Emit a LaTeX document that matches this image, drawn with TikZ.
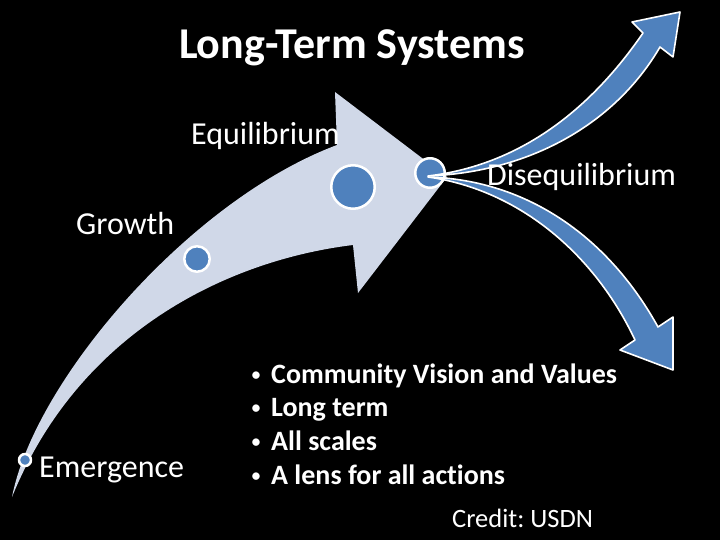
\documentclass[tikz,border=0pt]{standalone}
\usepackage{fontspec}
\setmainfont[Ligatures=NoCommon]{Carlito}
\definecolor{shaft}{RGB}{208,216,232}
\definecolor{dotblue}{RGB}{79,129,189}

\begin{document}
\begin{tikzpicture}[x=1pt,y=-1pt,line cap=round,line join=round,
  dot/.style={circle,fill=dotblue,draw=white,line width=2.5pt,inner sep=0pt},
  lbl/.style={text=white,anchor=base west,inner sep=0pt,font=\fontsize{32}{38}\selectfont},
  item/.style={text=white,anchor=base west,inner sep=0pt,font=\fontsize{28}{33}\selectfont\bfseries},
  branch/.style={fill=dotblue,draw=white,line width=1.6pt}]
  \fill[black] (0,0) rectangle (720,540);
  % big curved arrow
  \fill[shaft] (12,497) .. controls (35,380) and (190,200) .. (337,145) -- (335,92) -- (447,177)
    -- (358,293) -- (353,245) .. controls (230,260) and (80,330) .. (12,497) -- cycle;
  % stages
  \node[dot,minimum size=43.5] (equil) at (353,187) {};
  \node[dot,minimum size=25.5] (growth) at (197,259) {};
  \node[dot,minimum size=12] (emerge) at (25,460) {};
  \node[dot,minimum size=29.5] (diseq) at (430,173) {};
  % two branches out of disequilibrium
  \draw[branch] (428,176) .. controls (520,165) and (590,110) .. (643,33) -- (632,22) -- (680,12)
    -- (673,57) -- (660,47) .. controls (615,124) and (530,172) .. (428,176) -- cycle;
  \draw[branch] (428,177) .. controls (530,180) and (610,240) .. (658,327) -- (673,317) -- (673,370)
    -- (620,350) -- (635,340) .. controls (595,255) and (520,190) .. (428,177) -- cycle;
  % labels
  \node[text=white,anchor=base,inner sep=0pt,font=\fontsize{44}{52}\selectfont\bfseries] (title) at (352,59) {Long-Term Systems};
  \node[lbl] (equillbl) at (191,145) {Equilibrium};
  \node[lbl] (diseqlbl) at (487,186) {Disequilibrium};
  \node[lbl] (growthlbl) at (76,235) {Growth};
  \node[lbl] (emergelbl) at (39,477) {Emergence};
  \foreach \txt [count=\i] in {Community Vision and Values,Long term,All scales,A lens for all actions} {
    \node[item] (item\i) at (271,{383+33.7*(\i-1)}) {\txt};
    \node[text=white,anchor=base,inner sep=0pt,font=\fontsize{21}{25}\selectfont] (bul\i) at (256,{381+33.7*(\i-1)}) {•};
  }
  \node[text=white,anchor=base west,inner sep=0pt,font=\fontsize{26.5}{31}\selectfont] (credit) at (452,527) {Credit:\ USDN};
\end{tikzpicture}
\end{document}
